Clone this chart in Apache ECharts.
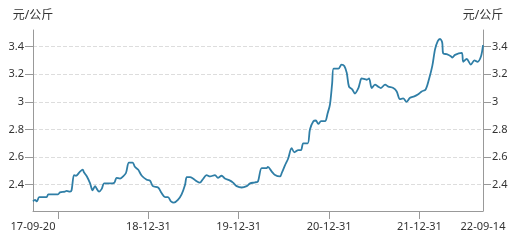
<!DOCTYPE html>
<html><head><meta charset="utf-8">
<script src="https://cdn.jsdelivr.net/npm/echarts@6/dist/echarts.min.js"></script>
<style>html,body{margin:0;padding:0;background:#fff}#c{width:517px;height:240px}</style>
</head><body><div id="c"></div>
<script>
const dates = ['2017-09-20','2017-09-28','2017-10-06','2017-10-15','2017-11-14','2017-11-21','2017-12-30','2018-01-07','2018-01-27','2018-02-03','2018-02-17','2018-02-23','2018-03-05','2018-03-13','2018-03-29','2018-04-09','2018-04-14','2018-04-26','2018-05-09','2018-05-19','2018-05-29','2018-06-05','2018-06-14','2018-06-25','2018-07-05','2018-07-28','2018-08-15','2018-08-24','2018-09-07','2018-09-19','2018-10-01','2018-10-13','2018-10-28','2018-11-06','2018-11-19','2018-12-04','2018-12-24','2019-01-06','2019-01-18','2019-02-08','2019-02-22','2019-03-08','2019-03-20','2019-04-01','2019-04-13','2019-04-29','2019-05-14','2019-05-28','2019-06-04','2019-06-17','2019-06-29','2019-07-14','2019-07-27','2019-08-08','2019-08-23','2019-09-06','2019-09-26','2019-10-08','2019-10-23','2019-11-05','2019-11-26','2019-12-08','2019-12-23','2020-01-12','2020-02-01','2020-02-15','2020-03-06','2020-03-18','2020-04-02','2020-04-22','2020-04-27','2020-05-12','2020-05-26','2020-06-15','2020-06-22','2020-07-05','2020-07-18','2020-08-01','2020-08-12','2020-08-28','2020-09-08','2020-09-17','2020-10-05','2020-10-14','2020-10-28','2020-11-07','2020-11-17','2020-11-28','2020-12-14','2020-12-25','2021-01-03','2021-01-12','2021-01-18','2021-02-06','2021-02-19','2021-03-02','2021-03-12','2021-03-21','2021-04-03','2021-04-14','2021-04-28','2021-05-04','2021-05-11','2021-06-01','2021-06-10','2021-06-21','2021-07-04','2021-07-17','2021-07-28','2021-08-14','2021-08-27','2021-09-16','2021-09-30','2021-10-13','2021-10-26','2021-11-09','2021-11-23','2021-12-10','2021-12-26','2022-01-09','2022-01-25','2022-02-07','2022-02-21','2022-03-04','2022-03-15','2022-03-24','2022-04-02','2022-04-06','2022-04-20','2022-05-07','2022-05-13','2022-05-24','2022-06-20','2022-06-26','2022-07-10','2022-07-27','2022-08-10','2022-08-23','2022-09-06','2022-09-14'];
const prices = [2.28,2.29,2.28,2.31,2.31,2.33,2.33,2.345,2.35,2.355,2.35,2.36,2.47,2.465,2.495,2.51,2.49,2.46,2.41,2.36,2.39,2.37,2.35,2.37,2.41,2.41,2.415,2.45,2.445,2.46,2.485,2.56,2.56,2.53,2.51,2.465,2.436,2.43,2.39,2.38,2.34,2.31,2.31,2.28,2.27,2.29,2.33,2.40,2.455,2.455,2.445,2.425,2.415,2.44,2.47,2.46,2.47,2.45,2.465,2.445,2.43,2.415,2.39,2.38,2.39,2.41,2.417,2.425,2.52,2.52,2.53,2.497,2.47,2.46,2.485,2.54,2.59,2.665,2.635,2.65,2.65,2.70,2.70,2.80,2.86,2.865,2.84,2.86,2.86,2.92,2.98,3.135,3.24,3.24,3.27,3.26,3.21,3.11,3.09,3.06,3.10,3.137,3.17,3.16,3.17,3.10,3.125,3.11,3.10,3.125,3.11,3.10,3.075,3.02,3.025,3.00,3.03,3.04,3.055,3.075,3.09,3.16,3.26,3.38,3.44,3.455,3.43,3.35,3.345,3.33,3.32,3.34,3.355,3.29,3.31,3.27,3.30,3.29,3.33,3.41];
const xLabelDates = ['2017-09-20','2018-12-31','2019-12-31','2020-12-31','2021-12-31','2022-09-14'];
const xTickDates = ['2017-12-31','2018-12-31','2019-12-31','2020-12-31','2021-12-31'];
const yTicks = [2.4,2.6,2.8,3.0,3.2,3.4];
const unitName = '元/公斤';

const ts = s => { const p = s.split('-').map(Number); return new Date(p[0], p[1]-1, p[2]).getTime(); };
const pad = n => (n < 10 ? '0' : '') + n;
const fmt = v => { const d = new Date(v); return pad(d.getFullYear() % 100) + '-' + pad(d.getMonth()+1) + '-' + pad(d.getDate()); };
const FONT = "'Noto Sans', 'Noto Sans CJK SC', sans-serif";
const axisColor = '#999';
const textColor = '#333';

const yAxisBase = (pos) => ({
  type: 'value', position: pos, min: 2.21, max: 3.52,
  name: unitName, nameGap: 8,
  nameTextStyle: { color: textColor, fontSize: 12, fontFamily: FONT },
  axisLine: { show: true, lineStyle: { color: axisColor } },
  axisTick: { show: true, length: 8, lineStyle: { color: axisColor }, customValues: yTicks },
  axisLabel: { color: textColor, fontSize: 11, fontFamily: FONT, margin: 9, customValues: yTicks,
    formatter: v => String(Math.round(v*10)/10) },
  splitLine: { show: pos === 'left', lineStyle: { color: '#ddd', type: 'dashed' } }
});

const chart = echarts.init(document.getElementById('c'), null, { renderer: 'canvas' });
chart.setOption({
  animation: false,
  grid: { left: 33, right: 34, top: 30, bottom: 29, containLabel: false },
  xAxis: {
    type: 'value', min: ts(dates[0]), max: ts(dates[dates.length-1]),
    axisLine: { lineStyle: { color: axisColor } },
    axisTick: { show: true, length: 8, lineStyle: { color: axisColor }, customValues: xTickDates.map(ts) },
    axisLabel: { color: textColor, fontSize: 11, fontFamily: FONT, margin: 10, hideOverlap: false,
      showMinLabel: true, showMaxLabel: true,
      customValues: xLabelDates.map(ts), formatter: v => fmt(v) },
    splitLine: { show: false }
  },
  yAxis: [yAxisBase('left'), yAxisBase('right')],
  series: [{
    type: 'line', yAxisIndex: 0, showSymbol: false, smooth: 0.3,
    lineStyle: { color: '#2f7ea6', width: 1.8 },
    data: dates.map((d, i) => [ts(d), prices[i]])
  }]
});
</script></body></html>
